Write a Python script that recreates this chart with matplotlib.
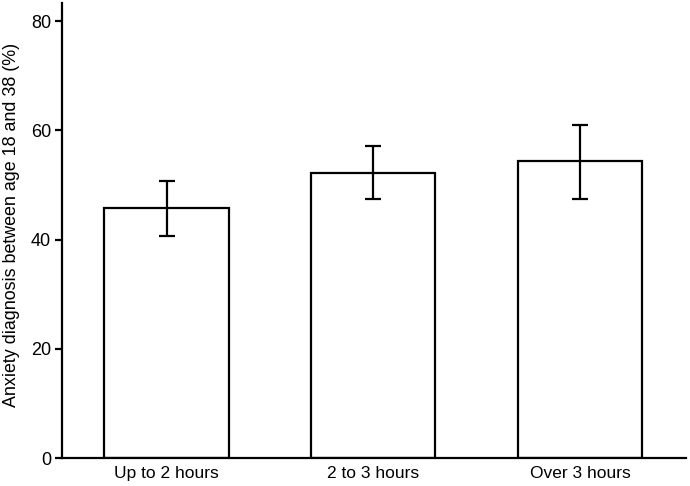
import matplotlib
matplotlib.use('Agg')
import matplotlib.pyplot as plt
import numpy as np

plt.rcParams['font.family'] = ['Liberation Sans', 'DejaVu Sans']

# Data
categories = ['Up to 2 hours', '2 to 3 hours', 'Over 3 hours']
values = [45.8, 52.2, 54.4]
err_low = [40.6, 47.4, 47.4]
err_high = [50.7, 57.1, 61.0]
y_ticks = [0, 20, 40, 60, 80]

fig = plt.figure(figsize=(6.9, 4.86), dpi=100)
ax = fig.add_axes([0.0899, 0.0576, 0.904, 0.936])

x = np.arange(len(categories))
yerr = [np.array(values) - np.array(err_low), np.array(err_high) - np.array(values)]

ax.bar(x, values, width=0.6, facecolor='white', edgecolor='black', linewidth=1.6, zorder=2)
ax.errorbar(x, values, yerr=yerr, fmt='none', ecolor='black', elinewidth=1.6,
            capsize=6, capthick=1.6, zorder=3)

ax.set_xlim(-0.505, 2.51)
ax.set_ylim(0, 83.3)
ax.set_yticks(y_ticks)
ax.set_xticks(x)
ax.set_xticklabels(categories, fontsize=12.5)
ax.tick_params(axis='y', labelsize=13, length=5, width=1.6, pad=3)
ax.tick_params(axis='x', length=0, pad=6)
ax.set_ylabel('Anxiety diagnosis between age 18 and 38 (%)', fontsize=12.9)
ax.yaxis.set_label_coords(-0.068, 0.512)

for side in ['top', 'right']:
    ax.spines[side].set_visible(False)
for side in ['left', 'bottom']:
    ax.spines[side].set_linewidth(1.6)

fig.savefig('out.png', dpi=100)
